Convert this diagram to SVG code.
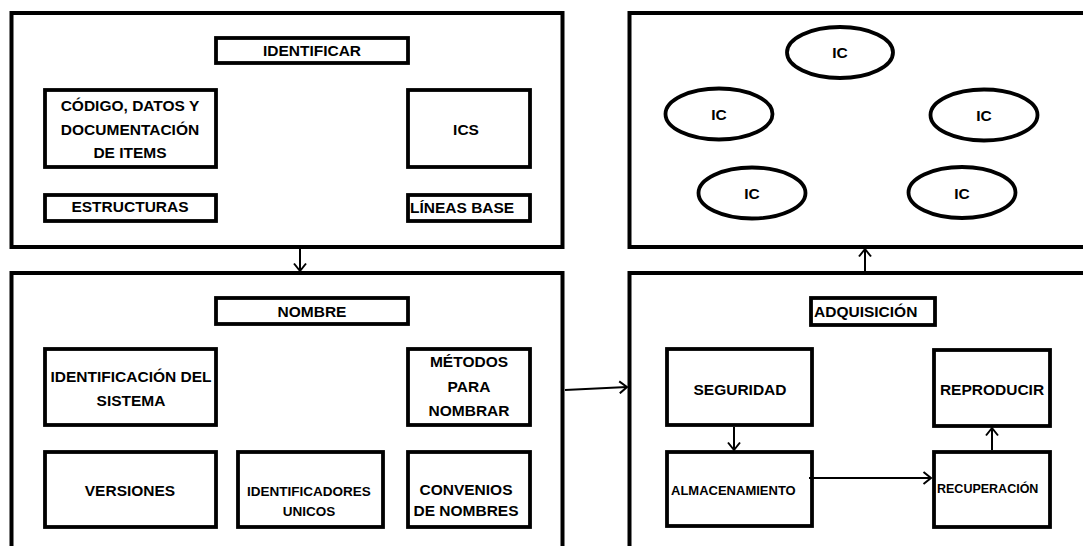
<svg xmlns="http://www.w3.org/2000/svg" width="1083" height="546" viewBox="0 0 1083 546">
<style>
.panel{fill:#fff;stroke:#000;stroke-width:4}
.box{fill:#fff;stroke:#000;stroke-width:3.8}
.ell{fill:#fff;stroke:#000;stroke-width:3.8}
.t{font-family:"Liberation Sans",Arial,sans-serif;font-weight:bold;font-size:15.5px;fill:#000;text-anchor:middle}
.s{font-size:13.5px}
.l{text-anchor:start}
.con{fill:none;stroke:#000;stroke-width:2}
</style>
<defs>
<marker id="arr" markerUnits="userSpaceOnUse" markerWidth="12" markerHeight="14" refX="9" refY="7" orient="auto">
<path d="M1.5,1 L9,7 L1.5,13" fill="none" stroke="#000" stroke-width="2"/>
</marker>
</defs>
<rect width="1083" height="546" fill="#fff"/>

<g id="panel-identificar">
<rect class="panel" x="11.5" y="13" width="551" height="234"/>
</g>
<g id="panel-nombre">
<rect class="panel" x="11.5" y="273" width="551" height="300"/>
</g>
<g id="panel-ic">
<rect class="panel" x="629.5" y="13" width="500" height="234"/>
</g>
<g id="panel-adquisicion">
<rect class="panel" x="629.5" y="273" width="500" height="300"/>
</g>

<g id="identificar"><rect class="box" x="216" y="38" width="192" height="25"/><text class="t" x="312" y="56">IDENTIFICAR</text></g>
<g id="codigo"><rect class="box" x="45" y="90" width="171" height="77"/><text class="t" x="130" y="111">CÓDIGO, DATOS Y</text><text class="t" x="130" y="135">DOCUMENTACIÓN</text><text class="t" x="130" y="158">DE ITEMS</text></g>
<g id="estructuras"><rect class="box" x="45" y="195" width="171" height="26"/><text class="t" x="130" y="212">ESTRUCTURAS</text></g>
<g id="ics"><rect class="box" x="408" y="90" width="122" height="77"/><text class="t" x="466" y="135">ICS</text></g>
<g id="lineas-base"><rect class="box" x="408" y="195" width="122" height="26"/><text class="t l" x="410" y="213">LÍNEAS BASE</text></g>

<g id="nombre"><rect class="box" x="216" y="298" width="192" height="26"/><text class="t" x="312" y="317">NOMBRE</text></g>
<g id="ident-sistema"><rect class="box" x="45" y="349" width="171" height="76"/><text class="t" x="131" y="382">IDENTIFICACIÓN DEL</text><text class="t" x="131" y="406">SISTEMA</text></g>
<g id="versiones"><rect class="box" x="45" y="452" width="171" height="75"/><text class="t" x="130" y="496">VERSIONES</text></g>
<g id="identificadores"><rect class="box" x="238" y="452" width="145" height="75"/><text class="t s" x="309" y="496">IDENTIFICADORES</text><text class="t s" x="309" y="516">UNICOS</text></g>
<g id="metodos"><rect class="box" x="408" y="349" width="122" height="76"/><text class="t" x="469" y="367">MÉTODOS</text><text class="t" x="469" y="392">PARA</text><text class="t" x="469" y="416">NOMBRAR</text></g>
<g id="convenios"><rect class="box" x="408" y="452" width="122" height="75"/><text class="t" x="466" y="495">CONVENIOS</text><text class="t" x="466" y="516">DE NOMBRES</text></g>

<g id="ic1"><ellipse class="ell" cx="840" cy="52.5" rx="53" ry="25.5"/><text class="t" x="840" y="58">IC</text></g>
<g id="ic2"><ellipse class="ell" cx="719" cy="114" rx="53.5" ry="25.5"/><text class="t" x="719" y="120">IC</text></g>
<g id="ic3"><ellipse class="ell" cx="984" cy="115" rx="53.5" ry="25.5"/><text class="t" x="984" y="121">IC</text></g>
<g id="ic4"><ellipse class="ell" cx="752" cy="193" rx="53.5" ry="25.5"/><text class="t" x="752" y="199">IC</text></g>
<g id="ic5"><ellipse class="ell" cx="962" cy="192.5" rx="53.5" ry="25.5"/><text class="t" x="962" y="199">IC</text></g>

<g id="adquisicion"><rect class="box" x="811" y="298" width="124" height="27"/><text class="t l" x="814" y="317">ADQUISICIÓN</text></g>
<g id="seguridad"><rect class="box" x="667" y="349" width="145" height="76"/><text class="t" x="740" y="395">SEGURIDAD</text></g>
<g id="almacenamiento"><rect class="box" x="667" y="452" width="145" height="74"/><text class="t l" x="671" y="495" style="font-size:13px">ALMACENAMIENTO</text></g>
<g id="reproducir"><rect class="box" x="934" y="350" width="116" height="76"/><text class="t" x="992" y="395">REPRODUCIR</text></g>
<g id="recuperacion"><rect class="box" x="934" y="452" width="116" height="75"/><text class="t l" x="937" y="493" style="font-size:12.5px">RECUPERACIÓN</text></g>

<g id="connectors">
<line class="con" x1="300" y1="249" x2="300" y2="271" marker-end="url(#arr)"/>
<line class="con" x1="565" y1="390" x2="627" y2="387" marker-end="url(#arr)"/>
<line class="con" x1="865" y1="271" x2="865" y2="249" marker-end="url(#arr)"/>
<line class="con" x1="734" y1="427" x2="734" y2="450" marker-end="url(#arr)"/>
<line class="con" x1="809" y1="478" x2="931" y2="478" marker-end="url(#arr)"/>
<line class="con" x1="992" y1="450" x2="992" y2="428" marker-end="url(#arr)"/>
</g>
</svg>
